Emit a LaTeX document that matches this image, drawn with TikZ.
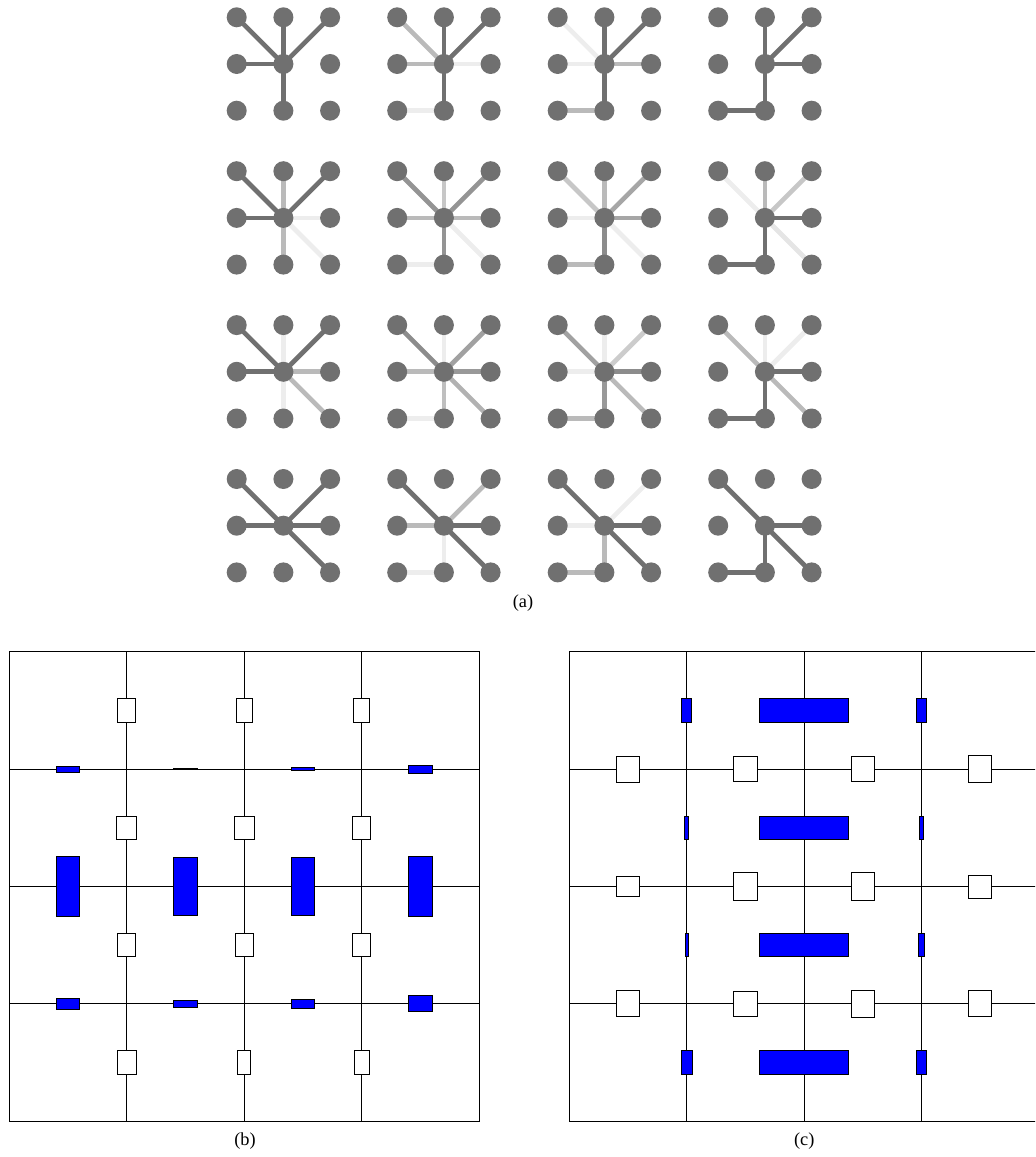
\documentclass[tikz,border=0pt]{standalone}
\usepackage{fontspec}
\setmainfont{Liberation Serif}
\pgfdeclarelayer{bg}
\pgfsetlayers{bg,main}
\definecolor{dotgray}{gray}{0.44}
\tikzset{
  dot/.style={circle, fill=dotgray, inner sep=0pt, minimum size=12pt},
  link/.style={line width=2.8pt},
  gridline/.style={line width=0.6pt},
  emptybox/.style={draw, fill=white, line width=0.6pt},
  bluebox/.style={draw, fill=blue, line width=0.6pt},
  caption/.style={font=\fontsize{11}{13}\selectfont, inner sep=0pt},
}

\begin{document}
\begin{tikzpicture}[x=0.6pt, y=-0.6pt]
  \clip (0,0) rectangle (1035,1157);

  % (a) sixteen stars, 3x3 dots each
  \foreach \I/\J/\edges in {
      0/0/{c/nw/56,c/n/56,c/ne/56,c/w/56,c/s/56},
      1/0/{c/nw/27,c/n/56,c/ne/56,c/w/27,c/e/7,c/s/56,sw/s/7},
      2/0/{c/nw/7,c/n/56,c/ne/56,c/w/7,c/e/27,c/s/56,sw/s/27},
      3/0/{c/n/56,c/ne/56,c/e/56,c/s/56,sw/s/56},
      0/1/{c/nw/56,c/n/27,c/ne/56,c/w/56,c/e/7,c/se/7,c/s/27},
      1/1/{c/nw/42,c/n/22,c/ne/42,c/w/27,c/e/27,c/s/42,c/se/7,sw/s/7},
      2/1/{c/nw/22,c/n/27,c/ne/35,c/w/7,c/e/35,c/s/45,c/se/7,sw/s/27},
      3/1/{c/nw/7,c/n/27,c/ne/22,c/e/56,c/s/56,c/se/10,sw/s/56},
      0/2/{c/nw/56,c/n/7,c/ne/56,c/w/56,c/e/27,c/se/27,c/s/7},
      1/2/{c/nw/45,c/n/7,c/ne/37,c/w/27,c/e/40,c/se/30,c/s/25,sw/s/7},
      2/2/{c/nw/37,c/n/7,c/ne/20,c/w/7,c/e/45,c/se/27,c/s/40,sw/s/27},
      3/2/{c/nw/27,c/n/7,c/ne/7,c/e/56,c/se/27,c/s/56,sw/s/56},
      0/3/{c/nw/56,c/ne/56,c/w/56,c/e/56,c/se/56},
      1/3/{c/nw/56,c/ne/27,c/w/27,c/e/56,c/se/56,c/s/7,sw/s/7},
      2/3/{c/nw/56,c/ne/7,c/w/7,c/e/56,c/se/56,c/s/27,sw/s/27},
      3/3/{c/nw/56,c/e/56,c/se/56,c/s/56,sw/s/56}}{
    \foreach \cx/\ry/\nm in {0/0/nw,1/0/n,2/0/ne,0/1/w,1/1/c,2/1/e,0/2/sw,1/2/s,2/2/se}
      \node[dot] (g\I\J-\nm) at ({236.7+160.5*\I+46.7*\cx},{17.3+153.9*\J+46.7*\ry}) {};
    \begin{pgfonlayer}{bg}
      \foreach \ea/\eb/\ep in \edges
        \draw[link, black!\ep] (g\I\J-\ea.center) -- (g\I\J-\eb.center);
    \end{pgfonlayer}
  }
  \node[caption] (capa) at (523,603) {(a)};

  % (b)
  \begin{scope}[shift={(9.4,651.7)}, x=70.44pt, y=-70.44pt]
    \draw[gridline] (0,0) rectangle (4,4);
    \foreach \k in {1,2,3} {
      \draw[gridline] (\k,0) -- (\k,4);
      \draw[gridline] (0,\k) -- (4,\k);
    }
    % boxes on vertical lines
    \foreach \k/\j/\w in {1/0/0.153, 2/0/0.136, 3/0/0.139,
                          1/1/0.170, 2/1/0.173, 3/1/0.159,
                          1/2/0.151, 2/2/0.153, 3/2/0.159,
                          1/3/0.159, 2/3/0.111, 3/3/0.128}
      \draw[emptybox] ({\k-\w/2},{\j+0.4}) rectangle ({\k+\w/2},{\j+0.6});
    % boxes on horizontal lines
    \foreach \j/\k/\h in {1/0/0.051, 1/1/0.013, 1/2/0.026, 1/3/0.068,
                          2/0/0.508, 2/1/0.497, 2/2/0.497, 2/3/0.514,
                          3/0/0.088, 3/1/0.066, 3/2/0.083, 3/3/0.136}
      \draw[bluebox] ({\k+0.4},{\j-\h/2}) rectangle ({\k+0.6},{\j+\h/2});
  \end{scope}
  \node[caption] (capb) at (245,1141) {(b)};

  % (c)
  \begin{scope}[shift={(569.3,651.7)}, x=70.44pt, y=-70.44pt]
    \draw[gridline] (0,0) rectangle (4,4);
    \foreach \k in {1,2,3} {
      \draw[gridline] (\k,0) -- (\k,4);
      \draw[gridline] (0,\k) -- (4,\k);
    }
    % boxes on horizontal lines
    \foreach \j/\k/\h in {1/0/0.221, 1/1/0.213, 1/2/0.216, 1/3/0.230,
                          2/0/0.173, 2/1/0.241, 2/2/0.241, 2/3/0.196,
                          3/0/0.221, 3/1/0.216, 3/2/0.227, 3/3/0.221}
      \draw[emptybox] ({\k+0.4},{\j-\h/2}) rectangle ({\k+0.6},{\j+\h/2});
    % boxes on vertical lines
    \foreach \k/\j/\w in {1/0/0.088, 2/0/0.758, 3/0/0.077,
                          1/1/0.032, 2/1/0.758, 3/1/0.040,
                          1/2/0.023, 2/2/0.761, 3/2/0.043,
                          1/3/0.091, 2/3/0.764, 3/3/0.091}
      \draw[bluebox] ({\k-\w/2},{\j+0.4}) rectangle ({\k+\w/2},{\j+0.6});
  \end{scope}
  \node[caption] (capc) at (804.3,1141) {(c)};
\end{tikzpicture}
\end{document}
